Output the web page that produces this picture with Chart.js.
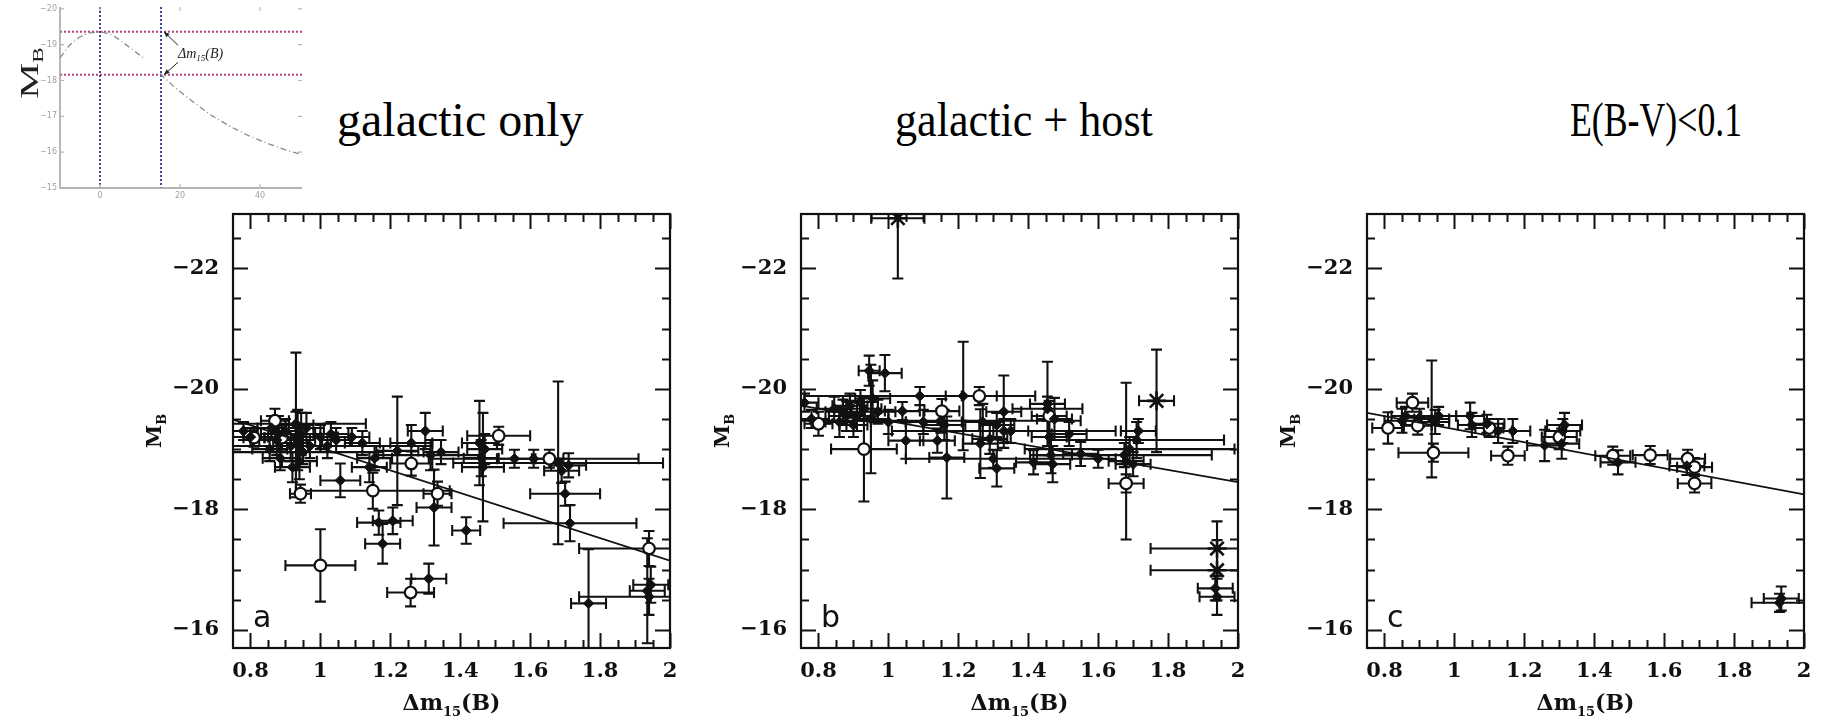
<!DOCTYPE html>
<html><head><meta charset="utf-8">
<script src="https://cdn.jsdelivr.net/npm/chart.js@4.4.1/dist/chart.umd.min.js"></script>
<style>
html,body{margin:0;padding:0;background:#fff;}
body{width:1824px;height:721px;position:relative;overflow:hidden;}
canvas{position:absolute;}
.ttl{position:absolute;font-family:'Liberation Serif','Times New Roman',serif;font-size:48px;line-height:48px;white-space:nowrap;color:#000;transform-origin:0 0;}
</style></head><body>
<div class="ttl" style="left:337px;top:96px">galactic only</div>
<div class="ttl" style="left:895px;top:96px;transform:scaleX(0.92)">galactic + host</div>
<div class="ttl" style="left:1570px;top:96px;transform:scaleX(0.745)">E(B-V)&lt;0.1</div>
<canvas id="inset" width="310" height="205" style="left:0;top:0"></canvas>
<canvas id="pa" width="597" height="521" style="left:93px;top:200px"></canvas>
<canvas id="pb" width="597" height="521" style="left:661px;top:200px"></canvas>
<canvas id="pc" width="597" height="521" style="left:1227px;top:200px"></canvas>
<script>
// ================= DATA =================
const xTickVals = [0.8, 1.0, 1.2, 1.4, 1.6, 1.8, 2.0];
const xTickLabels = ['0.8', '1', '1.2', '1.4', '1.6', '1.8', '2'];
const yTickVals = [-22, -20, -18, -16];
const yTickLabels = ['\u221222', '\u221220', '\u221218', '\u221216'];
const panelLetters = ['a', 'b', 'c'];

// fitted relations (x endpoints, M_B endpoints)
const fitX = [0.75, 2.0];
const fitA = [-19.49, -17.15];
const fitB = [-19.72, -18.45];
const fitC = [-19.60, -18.25];

// rows: [dm15, M_B, x error, y error]
const aFilled = [
  [0.78,-19.30,0.04,0.15],[0.80,-19.20,0.05,0.15],[0.855,-19.00,0.05,0.20],[0.86,-19.35,0.04,0.20],
  [0.875,-19.15,0.05,0.25],[0.885,-18.85,0.05,0.20],[0.90,-19.30,0.04,0.20],[0.915,-19.05,0.05,0.25],
  [0.93,-19.40,0.05,1.20],[0.935,-19.15,0.05,0.50],[0.94,-18.80,0.05,0.30],[0.945,-19.25,0.04,0.35],
  [0.95,-18.95,0.23,0.20],[0.96,-19.35,0.05,0.25],[0.97,-19.05,0.03,0.20],[1.00,-19.20,0.05,0.20],
  [0.93,-19.42,0.20,0.20],[1.02,-19.05,0.30,0.20],[0.88,-19.25,0.05,0.30],[0.92,-18.70,0.05,0.25],
  [1.03,-19.25,0.05,0.20],[1.045,-19.15,0.04,0.20],[1.057,-18.48,0.057,0.28],[1.09,-19.20,0.05,0.15],
  [1.12,-19.10,0.05,0.20],[1.14,-18.70,0.05,0.25],[1.155,-18.85,0.05,0.20],[1.167,-17.78,0.062,0.20],
  [1.178,-17.43,0.05,0.33],[1.207,-17.81,0.057,0.22],[1.22,-18.97,0.06,0.90],[1.26,-19.10,0.06,0.30],
  [1.30,-19.30,0.05,0.30],[1.31,-16.85,0.05,0.25],[1.315,-18.90,0.15,0.25],[1.325,-18.03,0.05,0.63],
  [1.345,-18.95,0.05,0.20],[1.417,-17.65,0.04,0.22],[1.455,-19.10,0.05,0.70],[1.46,-18.85,0.05,0.30],
  [1.465,-18.70,0.06,0.90],[1.47,-19.00,0.05,0.25],[1.555,-18.84,0.05,0.15],[1.61,-18.84,0.30,0.15],
  [1.68,-18.77,0.30,1.35],[1.69,-18.64,0.05,0.20],[1.70,-18.26,0.10,0.20],[1.71,-18.73,0.05,0.20],
  [1.714,-17.77,0.19,0.30],[1.767,-16.44,0.05,0.90],[1.935,-16.65,0.05,0.87],[1.94,-16.55,0.20,0.30],
  [1.945,-16.75,0.05,0.30]
];
const aOpen = [
  [0.81,-19.19,0.03,0.15],[0.87,-19.47,0.04,0.20],[0.89,-19.19,0.05,0.20],[0.943,-18.26,0.03,0.15],
  [1.00,-17.07,0.10,0.60],[1.15,-18.31,0.22,0.30],[1.26,-18.76,0.06,0.20],[1.258,-16.62,0.067,0.23],
  [1.335,-18.26,0.04,0.20],[1.51,-19.22,0.09,0.15],[1.655,-18.84,0.04,0.15],[1.94,-17.35,0.20,0.29]
];
const aStars = [];

const bFilled = [
  [0.76,-19.77,0.04,0.15],[0.78,-19.50,0.05,0.15],[0.845,-19.67,0.05,0.20],[0.86,-19.45,0.04,0.25],
  [0.87,-19.62,0.05,0.20],[0.89,-19.72,0.05,0.20],[0.90,-19.40,0.04,0.20],[0.91,-19.55,0.05,0.25],
  [0.93,-19.67,0.05,0.20],[0.945,-20.30,0.03,0.25],[0.95,-19.50,0.05,0.90],[0.955,-19.84,0.05,0.30],
  [0.97,-19.62,0.05,0.20],[0.99,-20.26,0.048,0.30],[1.00,-19.45,0.05,0.20],[1.04,-19.63,0.05,0.15],
  [0.88,-19.55,0.05,0.25],[0.92,-19.78,0.05,0.20],[1.15,-19.47,0.40,0.20],[1.33,-19.30,0.32,0.20],
  [1.455,-19.67,0.10,0.20],
  [1.05,-19.14,0.05,0.30],[1.09,-19.88,0.33,0.15],[1.10,-19.45,0.05,0.20],[1.14,-19.14,0.05,0.20],
  [1.16,-19.40,0.06,0.25],[1.167,-18.86,0.05,0.68],[1.214,-19.88,0.05,0.90],[1.263,-19.09,0.05,0.57],
  [1.27,-19.45,0.06,0.30],[1.29,-19.17,0.05,0.25],[1.30,-18.84,0.25,0.15],[1.31,-18.68,0.05,0.30],
  [1.31,-19.40,0.05,0.20],[1.33,-19.62,0.05,0.60],[1.35,-19.30,0.05,0.20],[1.415,-18.78,0.05,0.20],
  [1.455,-19.75,0.05,0.70],[1.46,-19.20,0.05,0.30],[1.465,-18.90,0.06,0.30],[1.47,-18.75,0.05,0.30],
  [1.475,-19.50,0.05,0.35],[1.517,-19.25,0.05,0.20],[1.55,-18.92,0.05,0.20],[1.60,-18.84,0.05,0.15],
  [1.675,-18.90,0.25,0.20],[1.68,-18.80,0.05,1.30],[1.69,-19.00,0.30,0.20],[1.70,-18.75,0.05,0.20],
  [1.71,-19.15,0.25,0.30],[1.715,-19.30,0.05,0.20],[1.935,-16.69,0.05,0.20],[1.94,-16.55,0.05,0.30]
];
const bOpen = [
  [0.80,-19.42,0.04,0.20],[0.93,-19.00,0.094,0.87],[1.153,-19.63,0.05,0.20],[1.26,-19.88,0.05,0.15],
  [1.46,-19.55,0.05,0.25],[1.68,-18.43,0.05,0.15]
];
const bStars = [
  [1.027,-22.83,0.076,1.00],[1.767,-19.80,0.05,0.85],[1.94,-17.35,0.19,0.45],[1.94,-16.99,0.19,0.50]
];

const cFilled = [
  [0.85,-19.47,0.05,0.20],[0.86,-19.55,0.04,0.15],[0.90,-19.52,0.05,0.15],[0.935,-19.50,0.05,0.97],
  [0.945,-19.45,0.04,0.20],[0.955,-19.55,0.05,0.15],[1.045,-19.55,0.04,0.22],[1.05,-19.40,0.04,0.20],
  [1.093,-19.42,0.05,0.15],[1.125,-19.30,0.04,0.20],[1.167,-19.30,0.05,0.20],[1.258,-19.06,0.05,0.26],
  [1.307,-19.09,0.05,0.25],[1.31,-19.30,0.05,0.20],[1.315,-19.40,0.05,0.20],[1.468,-18.78,0.05,0.20],
  [1.665,-18.72,0.05,0.15],[1.93,-16.45,0.08,0.15],[1.935,-16.52,0.05,0.20]
];
const cOpen = [
  [0.81,-19.35,0.045,0.26],[0.88,-19.77,0.045,0.15],[0.895,-19.39,0.04,0.15],[0.94,-18.94,0.10,0.15],
  [1.10,-19.35,0.04,0.15],[1.153,-18.89,0.048,0.15],[1.30,-19.20,0.05,0.20],[1.453,-18.89,0.05,0.15],
  [1.56,-18.90,0.05,0.15],[1.667,-18.84,0.05,0.15],[1.687,-18.70,0.05,0.15],[1.687,-18.43,0.048,0.15]
];
const cStars = [];

// inset light curve (days from max, M_B)
const lcDay = [-10, -7.5, -5, -2.5, 0, 2.5, 5, 7.5, 11, 13, 15, 18.75, 22.5, 27.5, 32.5, 37.5, 42.5, 47.5, 50.5];
const lcMag = [-18.63, -19.0, -19.22, -19.33, -19.36, -19.3, -19.13, -18.91, -18.62, null, -18.19, -17.8, -17.47, -17.05, -16.72, -16.44, -16.22, -16.02, -15.94];
const insetVDays = [0, 15.25];
const insetHMags = [-19.36, -18.16];
const insetXTicks = [0, 20, 40];
const insetYTicks = [-20, -19, -18, -17, -16, -15];

// ================= PLUGINS =================
const INK = '#111';
const errorBars = {
  id: 'errorBars',
  beforeDatasetsDraw(chart) {
    const {ctx, chartArea: ca, scales} = chart;
    const xs = scales.x, ys = scales.y;
    ctx.save();
    ctx.beginPath(); ctx.rect(ca.left, ca.top, ca.right - ca.left, ca.bottom - ca.top); ctx.clip();
    ctx.strokeStyle = INK; ctx.lineWidth = 2.1;
    chart.data.datasets.forEach(ds => {
      if (!ds.rows) return;
      ds.rows.forEach(r => {
        const [x, y, xe, ye] = r;
        const px = xs.getPixelForValue(x), py = ys.getPixelForValue(y);
        const x0 = xs.getPixelForValue(x - xe), x1 = xs.getPixelForValue(x + xe);
        const y0 = ys.getPixelForValue(y - ye), y1 = ys.getPixelForValue(y + ye);
        const c = 5.5;
        ctx.beginPath();
        ctx.moveTo(x0, py); ctx.lineTo(x1, py);
        ctx.moveTo(x0, py - c); ctx.lineTo(x0, py + c);
        ctx.moveTo(x1, py - c); ctx.lineTo(x1, py + c);
        ctx.moveTo(px, y0); ctx.lineTo(px, y1);
        ctx.moveTo(px - c, y0); ctx.lineTo(px + c, y0);
        ctx.moveTo(px - c, y1); ctx.lineTo(px + c, y1);
        ctx.stroke();
      });
    });
    ctx.restore();
  }
};

function subText(ctx, parts, x, y, align) {
  // parts: [text, font, dy]
  let w = 0;
  parts.forEach(p => { ctx.font = p[1]; w += ctx.measureText(p[0]).width; });
  let cx = align === 'center' ? x - w / 2 : x;
  parts.forEach(p => { ctx.font = p[1]; ctx.fillText(p[0], cx, y + p[2]); cx += ctx.measureText(p[0]).width; });
}

const deco = {
  id: 'deco',
  afterDraw(chart, args, opts) {
    const {ctx, chartArea: ca, scales: {x, y}} = chart;
    ctx.save();
    ctx.strokeStyle = INK; ctx.fillStyle = INK;
    ctx.lineWidth = 2.2;
    ctx.strokeRect(ca.left, ca.top, ca.right - ca.left, ca.bottom - ca.top);
    ctx.lineWidth = 2;
    ctx.beginPath();
    const minorX = 0.05, minorY = 0.5;
    for (let k = 16; k <= 40; k++) {
      const v = k * minorX;
      const major = xTickVals.some(t => Math.abs(t - v) < 1e-6);
      const L = major ? 15 : 8;
      const px = Math.round(x.getPixelForValue(v)) + 0.5;
      ctx.moveTo(px, ca.bottom); ctx.lineTo(px, ca.bottom - L);
      ctx.moveTo(px, ca.top); ctx.lineTo(px, ca.top + L);
    }
    for (let k = -45; k <= -32; k++) {
      const v = k * minorY;
      const major = yTickVals.some(t => Math.abs(t - v) < 1e-6);
      const L = major ? 15 : 8;
      const py = Math.round(y.getPixelForValue(v)) + 0.5;
      ctx.moveTo(ca.left, py); ctx.lineTo(ca.left + L, py);
      ctx.moveTo(ca.right, py); ctx.lineTo(ca.right - L, py);
    }
    ctx.stroke();
    // tick labels
    ctx.font = 'bold 21px "DejaVu Serif"';
    ctx.textAlign = 'center'; ctx.textBaseline = 'middle';
    xTickVals.forEach((v, i) => ctx.fillText(xTickLabels[i], x.getPixelForValue(v), ca.bottom + 24));
    ctx.textAlign = 'right';
    yTickVals.forEach((v, i) => ctx.fillText(yTickLabels[i], ca.left - 14, y.getPixelForValue(v)));
    // x title
    ctx.textAlign = 'left'; ctx.textBaseline = 'alphabetic';
    subText(ctx, [['\u0394m', 'bold 22px "DejaVu Serif"', 0], ['15', 'bold 13px "DejaVu Serif"', 6], ['(B)', 'bold 22px "DejaVu Serif"', 0]],
      (ca.left + ca.right) / 2, ca.bottom + 62, 'center');
    // y title (rotated)
    ctx.save();
    ctx.translate(ca.left - 72, (ca.top + ca.bottom) / 2);
    ctx.rotate(-Math.PI / 2);
    subText(ctx, [['M', 'bold 21px "DejaVu Serif"', 0], ['B', 'bold 13px "DejaVu Serif"', 5]], 0, 0, 'center');
    ctx.restore();
    // panel letter
    ctx.font = '30px "DejaVu Sans"';
    ctx.fillText(opts.letter, ca.left + 20, ca.bottom - 21);
    ctx.restore();
  }
};

function makePanel(id, letter, fitY, filled, open, stars) {
  const pts = rows => rows.map(r => ({x: r[0], y: r[1]}));
  const datasets = [
    {type: 'line', data: fitX.map((v, i) => ({x: v, y: fitY[i]})), borderColor: INK, borderWidth: 1.8, pointRadius: 0, fill: false},
    {type: 'scatter', data: pts(filled), rows: filled, pointStyle: 'rectRot', pointRadius: 5.2, backgroundColor: INK, borderColor: INK, borderWidth: 1},
    {type: 'scatter', data: pts(open), rows: open, pointStyle: 'circle', pointRadius: 5.8, backgroundColor: '#fff', borderColor: INK, borderWidth: 2.2}
  ];
  if (stars.length) datasets.push({type: 'scatter', data: pts(stars), rows: stars, pointStyle: 'star', pointRadius: 9.5, backgroundColor: INK, borderColor: INK, borderWidth: 2.6});
  new Chart(document.getElementById(id), {
    type: 'scatter',
    data: {datasets},
    options: {
      responsive: false, animation: false, devicePixelRatio: 1,
      layout: {padding: {left: 0, right: 20, top: 14, bottom: 0}},
      plugins: {legend: {display: false}, tooltip: {enabled: false}, deco: {letter}},
      scales: {
        x: {type: 'linear', min: 0.75, max: 2.0, grid: {display: false}, border: {display: false}, ticks: {display: false},
            afterFit(s) { s.height = 73; s.paddingLeft = 0; s.paddingRight = 0; }},
        y: {type: 'linear', min: -22.9, max: -15.7, reverse: true, grid: {display: false}, border: {display: false}, ticks: {display: false},
            afterFit(s) { s.width = 140; s.paddingTop = 0; s.paddingBottom = 0; }}
      }
    },
    plugins: [errorBars, deco]
  });
}

makePanel('pa', panelLetters[0], fitA, aFilled, aOpen, aStars);
makePanel('pb', panelLetters[1], fitB, bFilled, bOpen, bStars);
makePanel('pc', panelLetters[2], fitC, cFilled, cOpen, cStars);

// ================= INSET =================
const insetDeco = {
  id: 'insetDeco',
  afterDraw(chart) {
    const {ctx, chartArea: ca, scales: {x, y}} = chart;
    ctx.save();
    ctx.strokeStyle = '#9a9a9a'; ctx.lineWidth = 1.4;
    ctx.beginPath();
    ctx.moveTo(ca.left, ca.top); ctx.lineTo(ca.left, ca.bottom); ctx.lineTo(ca.right, ca.bottom);
    ctx.stroke();
    ctx.strokeStyle = '#b5b5b5'; ctx.lineWidth = 1.2;
    ctx.beginPath();
    insetYTicks.forEach(v => {
      const py = y.getPixelForValue(v);
      ctx.moveTo(ca.left, py); ctx.lineTo(ca.left + 4, py);
      ctx.moveTo(ca.right, py); ctx.lineTo(ca.right - 4, py);
    });
    insetXTicks.forEach(v => {
      const px = x.getPixelForValue(v);
      ctx.moveTo(px, ca.bottom); ctx.lineTo(px, ca.bottom - 4);
      ctx.moveTo(px, ca.top); ctx.lineTo(px, ca.top + 4);
    });
    ctx.stroke();
    ctx.fillStyle = '#a0a0a0';
    ctx.font = '8px "DejaVu Sans"';
    ctx.textAlign = 'right'; ctx.textBaseline = 'middle';
    insetYTicks.forEach(v => ctx.fillText(String(v).replace('-', '\u2212'), ca.left - 3, y.getPixelForValue(v)));
    ctx.textAlign = 'center'; ctx.textBaseline = 'top';
    insetXTicks.forEach(v => ctx.fillText(String(v), x.getPixelForValue(v), ca.bottom + 4));
    // annotation
    ctx.fillStyle = '#222'; ctx.strokeStyle = '#222'; ctx.lineWidth = 1;
    const lx = x.getPixelForValue(19.5), ly = y.getPixelForValue(-18.73);
    ctx.textAlign = 'left'; ctx.textBaseline = 'alphabetic';
    subText(ctx, [['\u0394m', 'italic 14px "Liberation Serif"', 0], ['15', 'italic 9px "Liberation Serif"', 3], ['(B)', 'italic 14px "Liberation Serif"', 0]], lx, ly + 4, 'left');
    const tx = x.getPixelForValue(16.0);
    [[insetHMags[0], -9], [insetHMags[1], 8]].forEach(([m, dy]) => {
      const ty = y.getPixelForValue(m);
      ctx.beginPath(); ctx.moveTo(lx, ly + dy); ctx.lineTo(tx, ty); ctx.stroke();
      const ang = Math.atan2(ty - (ly + dy), tx - lx);
      ctx.beginPath();
      ctx.moveTo(tx, ty);
      ctx.lineTo(tx - 6 * Math.cos(ang - 0.4), ty - 6 * Math.sin(ang - 0.4));
      ctx.lineTo(tx - 6 * Math.cos(ang + 0.4), ty - 6 * Math.sin(ang + 0.4));
      ctx.closePath(); ctx.fill();
    });
    // M_B label
    ctx.save();
    ctx.translate(29, 73);
    ctx.rotate(-Math.PI / 2);
    ctx.scale(1.55, 1);
    ctx.fillStyle = '#222';
    subText(ctx, [['M', '26px "Liberation Serif"', 0], ['B', '15px "Liberation Serif"', 5]], 0, 9, 'center');
    ctx.restore();
    ctx.restore();
  }
};

new Chart(document.getElementById('inset'), {
  type: 'scatter',
  data: {datasets: [
    {type: 'line', data: lcDay.map((d, i) => ({x: d, y: lcMag[i]})), borderColor: '#8a8a8a', borderWidth: 1.3, borderDash: [6, 3, 1, 3], pointRadius: 0, spanGaps: false, fill: false},
    {type: 'line', data: [{x: insetVDays[0], y: -20.05}, {x: insetVDays[0], y: -15}], borderColor: '#3f43a3', borderWidth: 2, borderDash: [2, 2], pointRadius: 0},
    {type: 'line', data: [{x: insetVDays[1], y: -20.05}, {x: insetVDays[1], y: -15}], borderColor: '#3f43a3', borderWidth: 2, borderDash: [2, 2], pointRadius: 0},
    {type: 'line', data: [{x: -10, y: insetHMags[0]}, {x: 50.5, y: insetHMags[0]}], borderColor: '#b8407f', borderWidth: 2, borderDash: [2, 2], pointRadius: 0},
    {type: 'line', data: [{x: -10, y: insetHMags[1]}, {x: 50.5, y: insetHMags[1]}], borderColor: '#b8407f', borderWidth: 2, borderDash: [2, 2], pointRadius: 0}
  ]},
  options: {
    responsive: false, animation: false, devicePixelRatio: 1,
    layout: {padding: {left: 0, right: 8, top: 7, bottom: 0}},
    plugins: {legend: {display: false}, tooltip: {enabled: false}},
    scales: {
      x: {type: 'linear', min: -10, max: 50.5, grid: {display: false}, border: {display: false}, ticks: {display: false},
          afterFit(s) { s.height = 17; s.paddingLeft = 0; s.paddingRight = 0; }},
      y: {type: 'linear', min: -20.05, max: -15, reverse: true, grid: {display: false}, border: {display: false}, ticks: {display: false},
          afterFit(s) { s.width = 60; s.paddingTop = 0; s.paddingBottom = 0; }}
    }
  },
  plugins: [insetDeco]
});
</script>
</body></html>
